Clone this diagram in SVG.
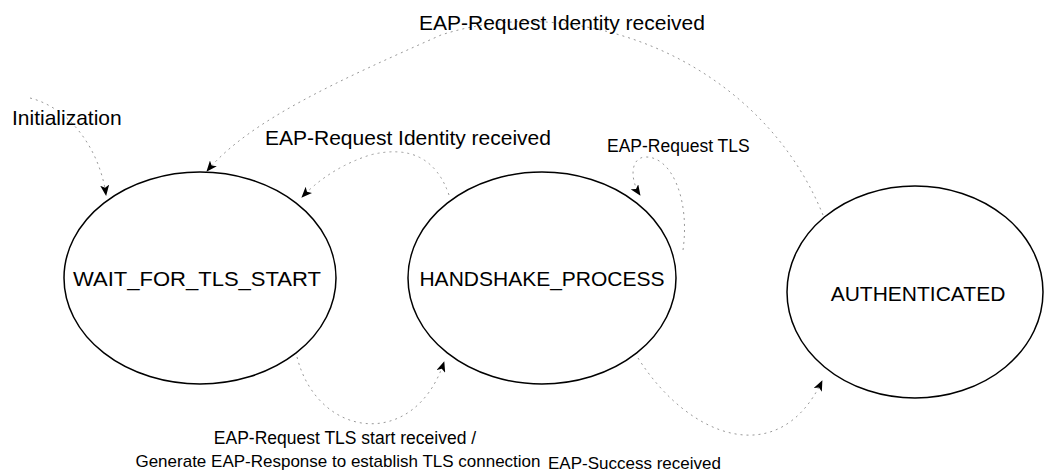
<svg xmlns="http://www.w3.org/2000/svg" width="1045" height="476" viewBox="0 0 1045 476">
<style>
.state{fill:#fff;stroke:#000;stroke-width:1.5}
.st{font-family:"Liberation Sans",Arial,sans-serif;font-size:21px;fill:#000;text-anchor:middle;dominant-baseline:central}
.lbl{font-family:"Liberation Sans",Arial,sans-serif;font-size:21px;fill:#000}
.sm{font-size:17.5px}
.xs{font-size:17px}
.edge{fill:none;stroke:#999;stroke-width:1;stroke-dasharray:2 4;marker-end:url(#arr)}
</style>
<defs>
<marker id="arr" viewBox="0 0 12 10" refX="11" refY="5" markerWidth="11" markerHeight="9" markerUnits="userSpaceOnUse" orient="auto">
<path d="M0,0 L12,5 L0,10 L3,5 Z" fill="#000"/>
</marker>
</defs>
<rect width="1045" height="476" fill="#fff"/>
<g id="connectors">
<path class="edge" d="M 30 98 C 70 108, 100 150, 106 195"/>
<path class="edge" d="M 823 215 C 760 60, 580 -10, 441 35 C 340 80, 250 120, 207 171"/>
<path class="edge" d="M 449 195 Q 430 140 370 155 Q 330 168 302 197"/>
<path class="edge" d="M 297 357 C 318 440, 415 450, 444 362"/>
<path class="edge" d="M 683 250 C 690 200, 672 156, 645 157 C 630 158, 630 180, 640 195"/>
<path class="edge" d="M 638 358 C 690 440, 780 470, 822 381"/>
</g>
<g id="wait_for_tls_start">
<ellipse class="state" cx="200" cy="278" rx="136" ry="106"/>
<text class="st" x="197" y="278" textLength="248" lengthAdjust="spacingAndGlyphs">WAIT_FOR_TLS_START</text>
</g>
<g id="handshake_process">
<ellipse class="state" cx="542" cy="278" rx="134" ry="106"/>
<text class="st" x="542" y="278">HANDSHAKE_PROCESS</text>
</g>
<g id="authenticated">
<ellipse class="state" cx="915" cy="292" rx="128" ry="106"/>
<text class="st" x="918" y="293">AUTHENTICATED</text>
</g>
<g id="labels">
<text class="lbl" x="12" y="125">Initialization</text>
<text class="lbl" x="562" y="30" text-anchor="middle">EAP-Request Identity received</text>
<text class="lbl" x="265" y="145">EAP-Request Identity received</text>
<text class="lbl sm" x="607" y="152">EAP-Request TLS</text>
<text class="lbl sm" x="345" y="444" text-anchor="middle">EAP-Request TLS start received /</text>
<text class="lbl xs" x="338" y="467" text-anchor="middle">Generate EAP-Response to establish TLS connection</text>
<text class="lbl xs" x="548" y="469">EAP-Success received</text>
</g>
</svg>
